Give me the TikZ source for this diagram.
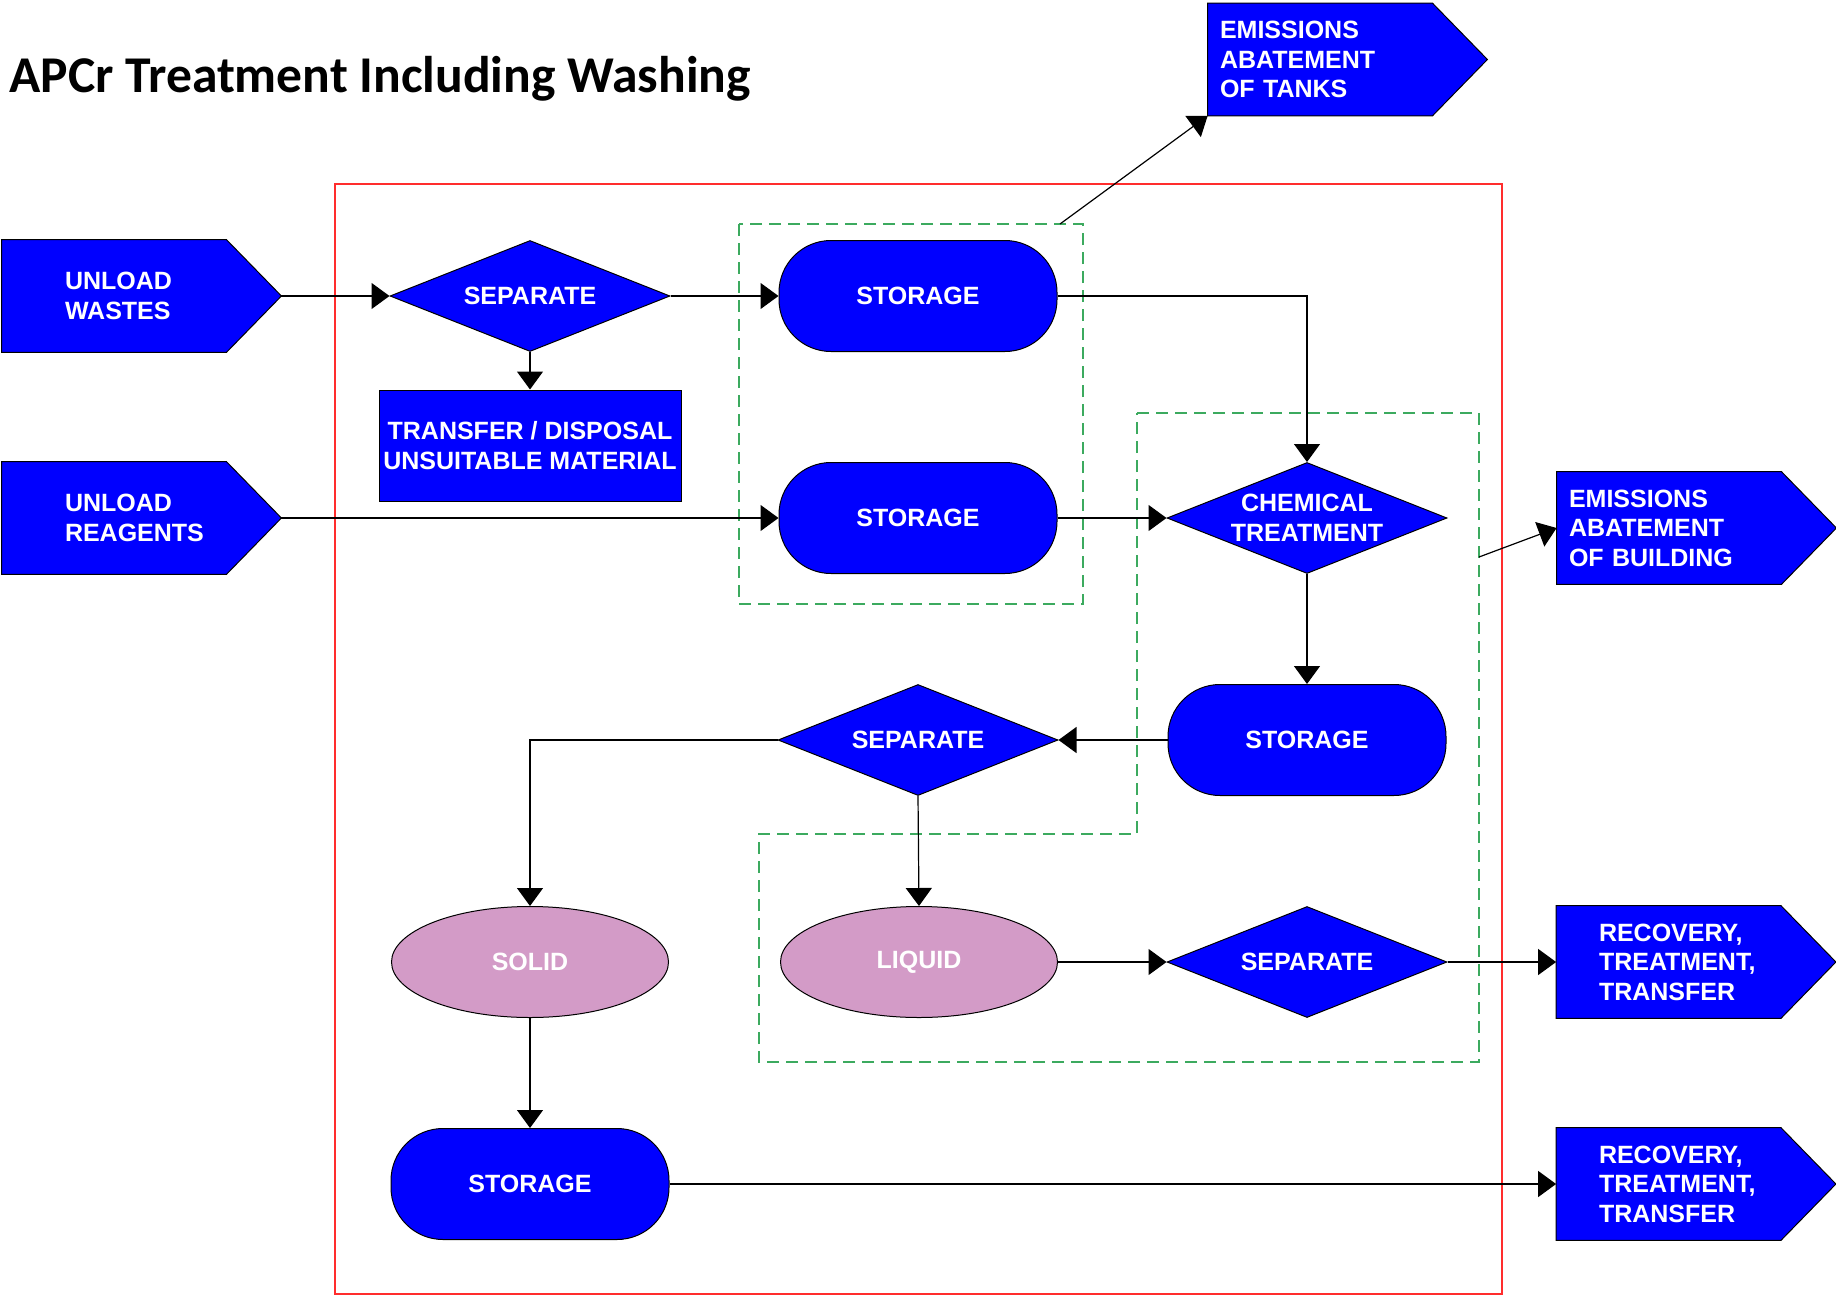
\documentclass[tikz,border=0pt]{standalone}
\usepackage{fontspec}
\setmainfont{Liberation Sans}
\newfontfamily\titlefont{Carlito}
\usetikzlibrary{arrows.meta,shapes.geometric,backgrounds}
\definecolor{boxblue}{RGB}{0,0,255}
\definecolor{phase}{RGB}{211,155,199}
\definecolor{zone}{RGB}{60,170,95}
\definecolor{fence}{RGB}{255,45,45}
\tikzset{
  every node/.style={font=\bfseries\fontsize{12.5}{14.75}\selectfont, text=white, inner sep=0pt},
  stage/.style={draw=black, fill=boxblue, line width=0.5pt},
  tank/.style={stage, rectangle, rounded corners=26pt, minimum width=139pt, minimum height=55.5pt},
  split/.style={stage, diamond, aspect=2.52, minimum width=140pt, minimum height=55.5pt, align=center},
  phasebox/.style={stage, fill=phase, ellipse, minimum width=138.5pt, minimum height=55.5pt},
  flag/.style={rectangle, minimum width=139.5pt, minimum height=56pt, align=left},
  flow/.style={draw, line width=0.6pt, -{Triangle[length=9pt,width=13pt]}},
  zonebox/.style={draw=zone, line width=0.7pt, dash pattern=on 6pt off 3.5pt}
}

\begin{document}
\begin{tikzpicture}[x=0.5pt, y=-0.5pt]
    \useasboundingbox (0,0) rectangle (1836,1295);
    \node[anchor=base west, text=black, font=\titlefont\bfseries\fontsize{25.8}{30}\selectfont] (title) at (9,93) {APCr Treatment Including Washing};

    % plant boundary and abatement zones
    \draw[fence, line width=0.75pt] (335,184) rectangle (1502,1294);
    \draw[zonebox] (739,224) rectangle (1083,604);
    \draw[zonebox] (1137,413) -- (1479,413) -- (1479,1062) -- (759,1062) -- (759,834) -- (1137,834) -- cycle;
    \coordinate (tankvent) at (1060,224);
    \coordinate (hallvent) at (1479,557);

    % inputs and outputs
    \node[flag, text width=76.5pt] (wastes) at (141.5,296) {UNLOAD\\WASTES};
    \node[flag, text width=76.5pt] (reagents) at (141.5,518) {UNLOAD\\REAGENTS};
    \node[flag, text width=127.5pt] (tanks) at (1347.5,59.5) {EMISSIONS\\ABATEMENT\\OF TANKS};
    \node[flag, text width=127.5pt] (building) at (1696.5,528) {EMISSIONS\\ABATEMENT\\OF BUILDING};
    \node[flag, text width=97pt] (recoverA) at (1696,962) {RECOVERY,\\TREATMENT,\\TRANSFER};
    \node[flag, text width=97pt] (recoverB) at (1696,1184) {RECOVERY,\\TREATMENT,\\TRANSFER};
    \begin{scope}[on background layer]
        \foreach \f in {wastes,reagents,tanks,building,recoverA,recoverB}
            \draw[stage] (\f.north west) -- ([xshift=-27.5pt]\f.north east) -- (\f.east)
                -- ([xshift=-27.5pt]\f.south east) -- (\f.south west) -- cycle;
    \end{scope}

    % process steps
    \node[split] (sepA) at (530,296) {SEPARATE};
    \node[stage, rectangle, minimum width=151pt, minimum height=55.5pt, align=center] (transfer) at (530,445.5) {TRANSFER / DISPOSAL\\UNSUITABLE MATERIAL};
    \node[tank] (storeA) at (918,296) {STORAGE};
    \node[tank] (storeB) at (918,518) {STORAGE};
    \node[split, inner xsep=-4pt] (chem) at (1307,518) {CHEMICAL\\TREATMENT};
    \node[tank] (storeC) at (1307,740) {STORAGE};
    \node[split] (sepB) at (918,740) {SEPARATE};
    \node[phasebox] (solid) at (530,962) {SOLID};
    \node[phasebox] (liquid) at (919,962) {LIQUID};
    \node[split] (sepC) at (1307,962) {SEPARATE};
    \node[tank] (storeD) at (530,1184) {STORAGE};

    % flows
    \draw[flow] (wastes.east) -- (sepA.west);
    \draw[flow] (sepA.south) -- (transfer.north);
    \draw[flow] (sepA.east) -- (storeA.west);
    \draw[flow] (reagents.east) -- (storeB.west);
    \draw[flow] (storeA.east) -| (chem.north);
    \draw[flow] (storeB.east) -- (chem.west);
    \draw[flow] (chem.south) -- (storeC.north);
    \draw[flow] (storeC.west) -- (sepB.east);
    \draw[flow] (sepB.west) -| (solid.north);
    \draw[flow] (sepB.south) -- (liquid.north);
    \draw[flow] (liquid.east) -- (sepC.west);
    \draw[flow] (sepC.east) -- (recoverA.west);
    \draw[flow] (solid.south) -- (storeD.north);
    \draw[flow] (storeD.east) -- (recoverB.west);
    \draw[flow] (tankvent) -- (tanks.south west);
    \draw[flow] (hallvent) -- (building.west);
\end{tikzpicture}
\end{document}
